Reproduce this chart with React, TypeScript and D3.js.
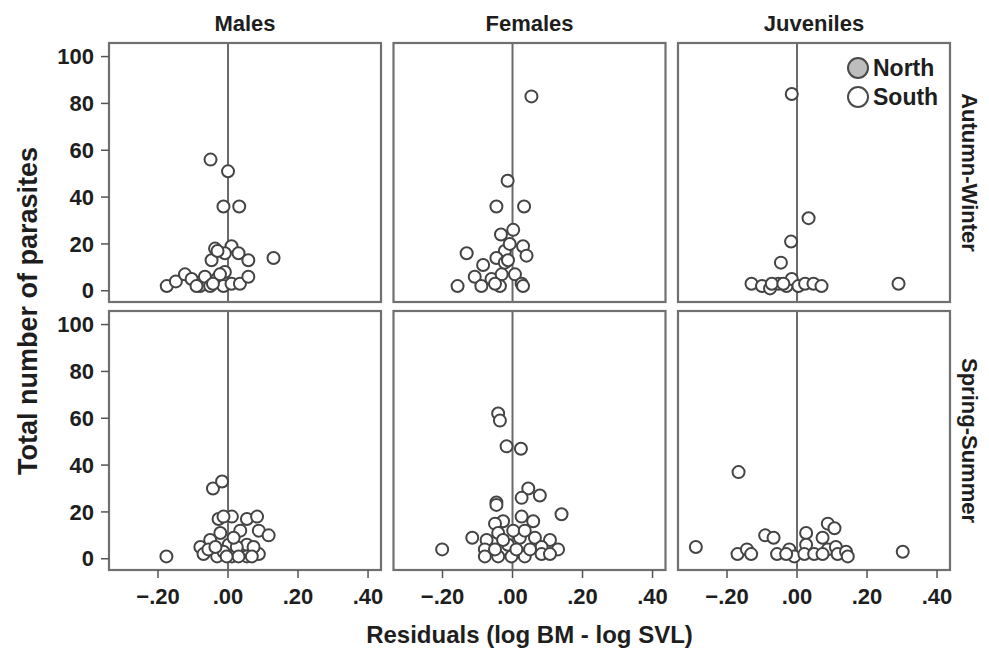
import React from 'react';
import * as d3 from 'd3';

const columns = ['Males', 'Females', 'Juveniles'];
const rows = ['Autumn-Winter', 'Spring-Summer'];
const regions = ['North', 'South'];
const yTicks = [0, 20, 40, 60, 80, 100];
const xTicks = [-0.2, 0, 0.2, 0.4];

// [residual, total parasites]
const malesAutumn = [
  [-0.05, 56], [0.0, 51], [-0.013, 36], [0.032, 36], [0.13, 14], [-0.037, 18], [0.01, 19],
  [0.03, 16], [0.058, 13], [-0.047, 13], [-0.009, 16], [-0.03, 17], [-0.175, 2], [-0.149, 4],
  [-0.123, 7], [-0.104, 5], [-0.08, 2], [-0.066, 6], [-0.051, 2], [-0.032, 5], [-0.009, 8],
  [-0.013, 2], [0.01, 3], [0.034, 3], [0.058, 6], [-0.023, 7], [-0.09, 2], [-0.043, 3],
];
const femalesAutumn = [
  [0.054, 83], [-0.014, 47], [-0.046, 36], [0.033, 36], [0.002, 26], [-0.033, 24], [-0.131, 16],
  [0.03, 19], [0.04, 15], [-0.022, 17], [-0.046, 14], [-0.008, 20], [-0.084, 11], [-0.108, 6],
  [-0.157, 2], [-0.089, 2], [-0.06, 5], [-0.031, 7], [0.007, 7], [0.026, 3], [-0.036, 2],
  [-0.022, 12], [-0.013, 13], [0.03, 2], [-0.05, 3],
];
const juvenilesAutumn = [
  [-0.015, 84], [0.033, 31], [-0.017, 21], [-0.046, 12], [0.29, 3], [-0.13, 3], [-0.1, 2],
  [-0.077, 1], [-0.053, 3], [-0.03, 2], [-0.015, 5], [0.004, 2], [0.023, 3], [0.047, 3],
  [0.07, 2], [-0.072, 3], [-0.039, 3],
];
const malesSpring = [
  [-0.176, 1], [-0.043, 30], [-0.017, 33], [-0.027, 17], [0.011, 18], [0.054, 17], [0.083, 18],
  [0.088, 12], [0.116, 10], [0.035, 12], [-0.022, 11], [-0.051, 8], [-0.079, 5], [-0.07, 2],
  [-0.031, 1], [0.002, 6], [0.011, 1], [0.054, 6], [0.054, 1], [0.088, 2], [0.025, 5],
  [-0.013, 3], [-0.056, 4], [0.073, 5], [0.016, 9], [-0.036, 5], [0.03, 1], [-0.013, 18],
  [0.068, 1], [-0.004, 1],
];
const femalesSpring = [
  [-0.201, 4], [-0.041, 62], [-0.036, 59], [-0.017, 48], [0.024, 47], [0.045, 30], [0.026, 26],
  [0.078, 27], [0.14, 19], [-0.046, 24], [-0.046, 23], [-0.115, 9], [-0.074, 8], [-0.027, 16],
  [0.026, 18], [0.059, 16], [-0.05, 15], [-0.041, 11], [0.021, 9], [0.064, 9], [0.107, 8],
  [0.13, 4], [0.083, 5], [-0.013, 6], [-0.079, 4], [-0.079, 1], [-0.041, 1], [-0.003, 1],
  [0.035, 1], [0.083, 2], [0.107, 2], [0.05, 4], [0.002, 12], [0.035, 12], [-0.027, 8],
  [-0.05, 4], [0.011, 4],
];
const juvenilesSpring = [
  [-0.289, 5], [-0.167, 37], [-0.17, 2], [-0.143, 4], [-0.131, 2], [-0.091, 10], [-0.067, 9],
  [-0.057, 2], [-0.022, 4], [-0.008, 1], [-0.031, 2], [0.026, 11], [0.026, 6], [0.021, 2],
  [0.049, 2], [0.073, 9], [0.088, 15], [0.107, 13], [0.088, 4], [0.111, 5], [0.116, 2],
  [0.14, 3], [0.145, 1], [0.302, 3], [0.073, 2],
];

const panelData = [
  [malesAutumn, femalesAutumn, juvenilesAutumn],
  [malesSpring, femalesSpring, juvenilesSpring],
];

const W = 989;
const H = 654;
const pw = 272;
const ph = 259;
const left0 = 109;
const top0 = 43;
const gapX = 12.5;
const gapY = 9;
const font = '"Liberation Sans", Arial, sans-serif';
const frameCol = '#707070';
const textCol = '#1e1e1e';

const fmtX = (v: number) => d3.format('.2f')(v).replace('0.', '.');

export default function App() {
  const x = d3.scaleLinear().domain([-0.34, 0.437]).range([0, pw]);
  const y = d3.scaleLinear().domain([-4.8, 105.8]).range([ph, 0]);

  return (
    <svg
      width={W}
      height={H}
      style={{ position: 'absolute', left: 0, top: 0, background: '#fff' }}
      fontFamily={font}
      fontWeight="bold"
    >
      <rect width={W} height={H} fill="#fff" />
      {rows.map((row, ri) => {
        const py = top0 + ri * (ph + gapY);
        return (
          <g key={row}>
            {columns.map((col, ci) => {
              const px = left0 + ci * (pw + gapX);
              const pts = panelData[ri][ci];
              return (
                <g key={col} transform={`translate(${px},${py})`}>
                  <line x1={x(0)} x2={x(0)} y1={0} y2={ph} stroke="#6a6a6a" strokeWidth={2} />
                  {pts.map((d, i) => (
                    <circle key={i} cx={x(d[0])} cy={y(d[1])} r={6}
                      fill="#fff" stroke="#444" strokeWidth={2} />
                  ))}
                  <rect x={0} y={0} width={pw} height={ph} fill="none" stroke={frameCol} strokeWidth={2.2} />
                  {ci === 0 && yTicks.map(t => (
                    <g key={t} transform={`translate(0,${y(t)})`}>
                      <line x1={-8} x2={0} stroke="#555" strokeWidth={1.5} />
                      <text x={-15} dy="0.35em" textAnchor="end" fontSize={22} fill={textCol}>{t}</text>
                    </g>
                  ))}
                  {ri === rows.length - 1 && xTicks.map(t => (
                    <g key={t} transform={`translate(${x(t)},${ph})`}>
                      <line y1={0} y2={8} stroke="#555" strokeWidth={1.5} />
                      <text y={34} textAnchor="middle" fontSize={22} fill={textCol}>{fmtX(t)}</text>
                    </g>
                  ))}
                  {ri === 0 && (
                    <text x={pw / 2} y={31 - py} textAnchor="middle" fontSize={22} fill={textCol}>{col}</text>
                  )}
                </g>
              );
            })}
            <text transform={`translate(962,${py + ph / 2}) rotate(90)`} textAnchor="middle"
              fontSize={22} fill={textCol}>{row}</text>
          </g>
        );
      })}

      {regions.map((r, i) => (
        <g key={r} transform={`translate(858,${68 + i * 29})`}>
          <circle r={10} fill={r === 'North' ? '#bdbdbd' : '#fff'} stroke="#4a4a4a" strokeWidth={2} />
          <text x={15} dy="0.36em" fontSize={23} fill={textCol}>{r}</text>
        </g>
      ))}

      <text transform="translate(37,311) rotate(-90)" textAnchor="middle" fontSize={27} fill={textCol}>
        Total number of parasites
      </text>
      <text x={left0 + pw + gapX + pw / 2} y={643} textAnchor="middle" fontSize={24} fill={textCol}>
        Residuals (log BM - log SVL)
      </text>
    </svg>
  );
}
